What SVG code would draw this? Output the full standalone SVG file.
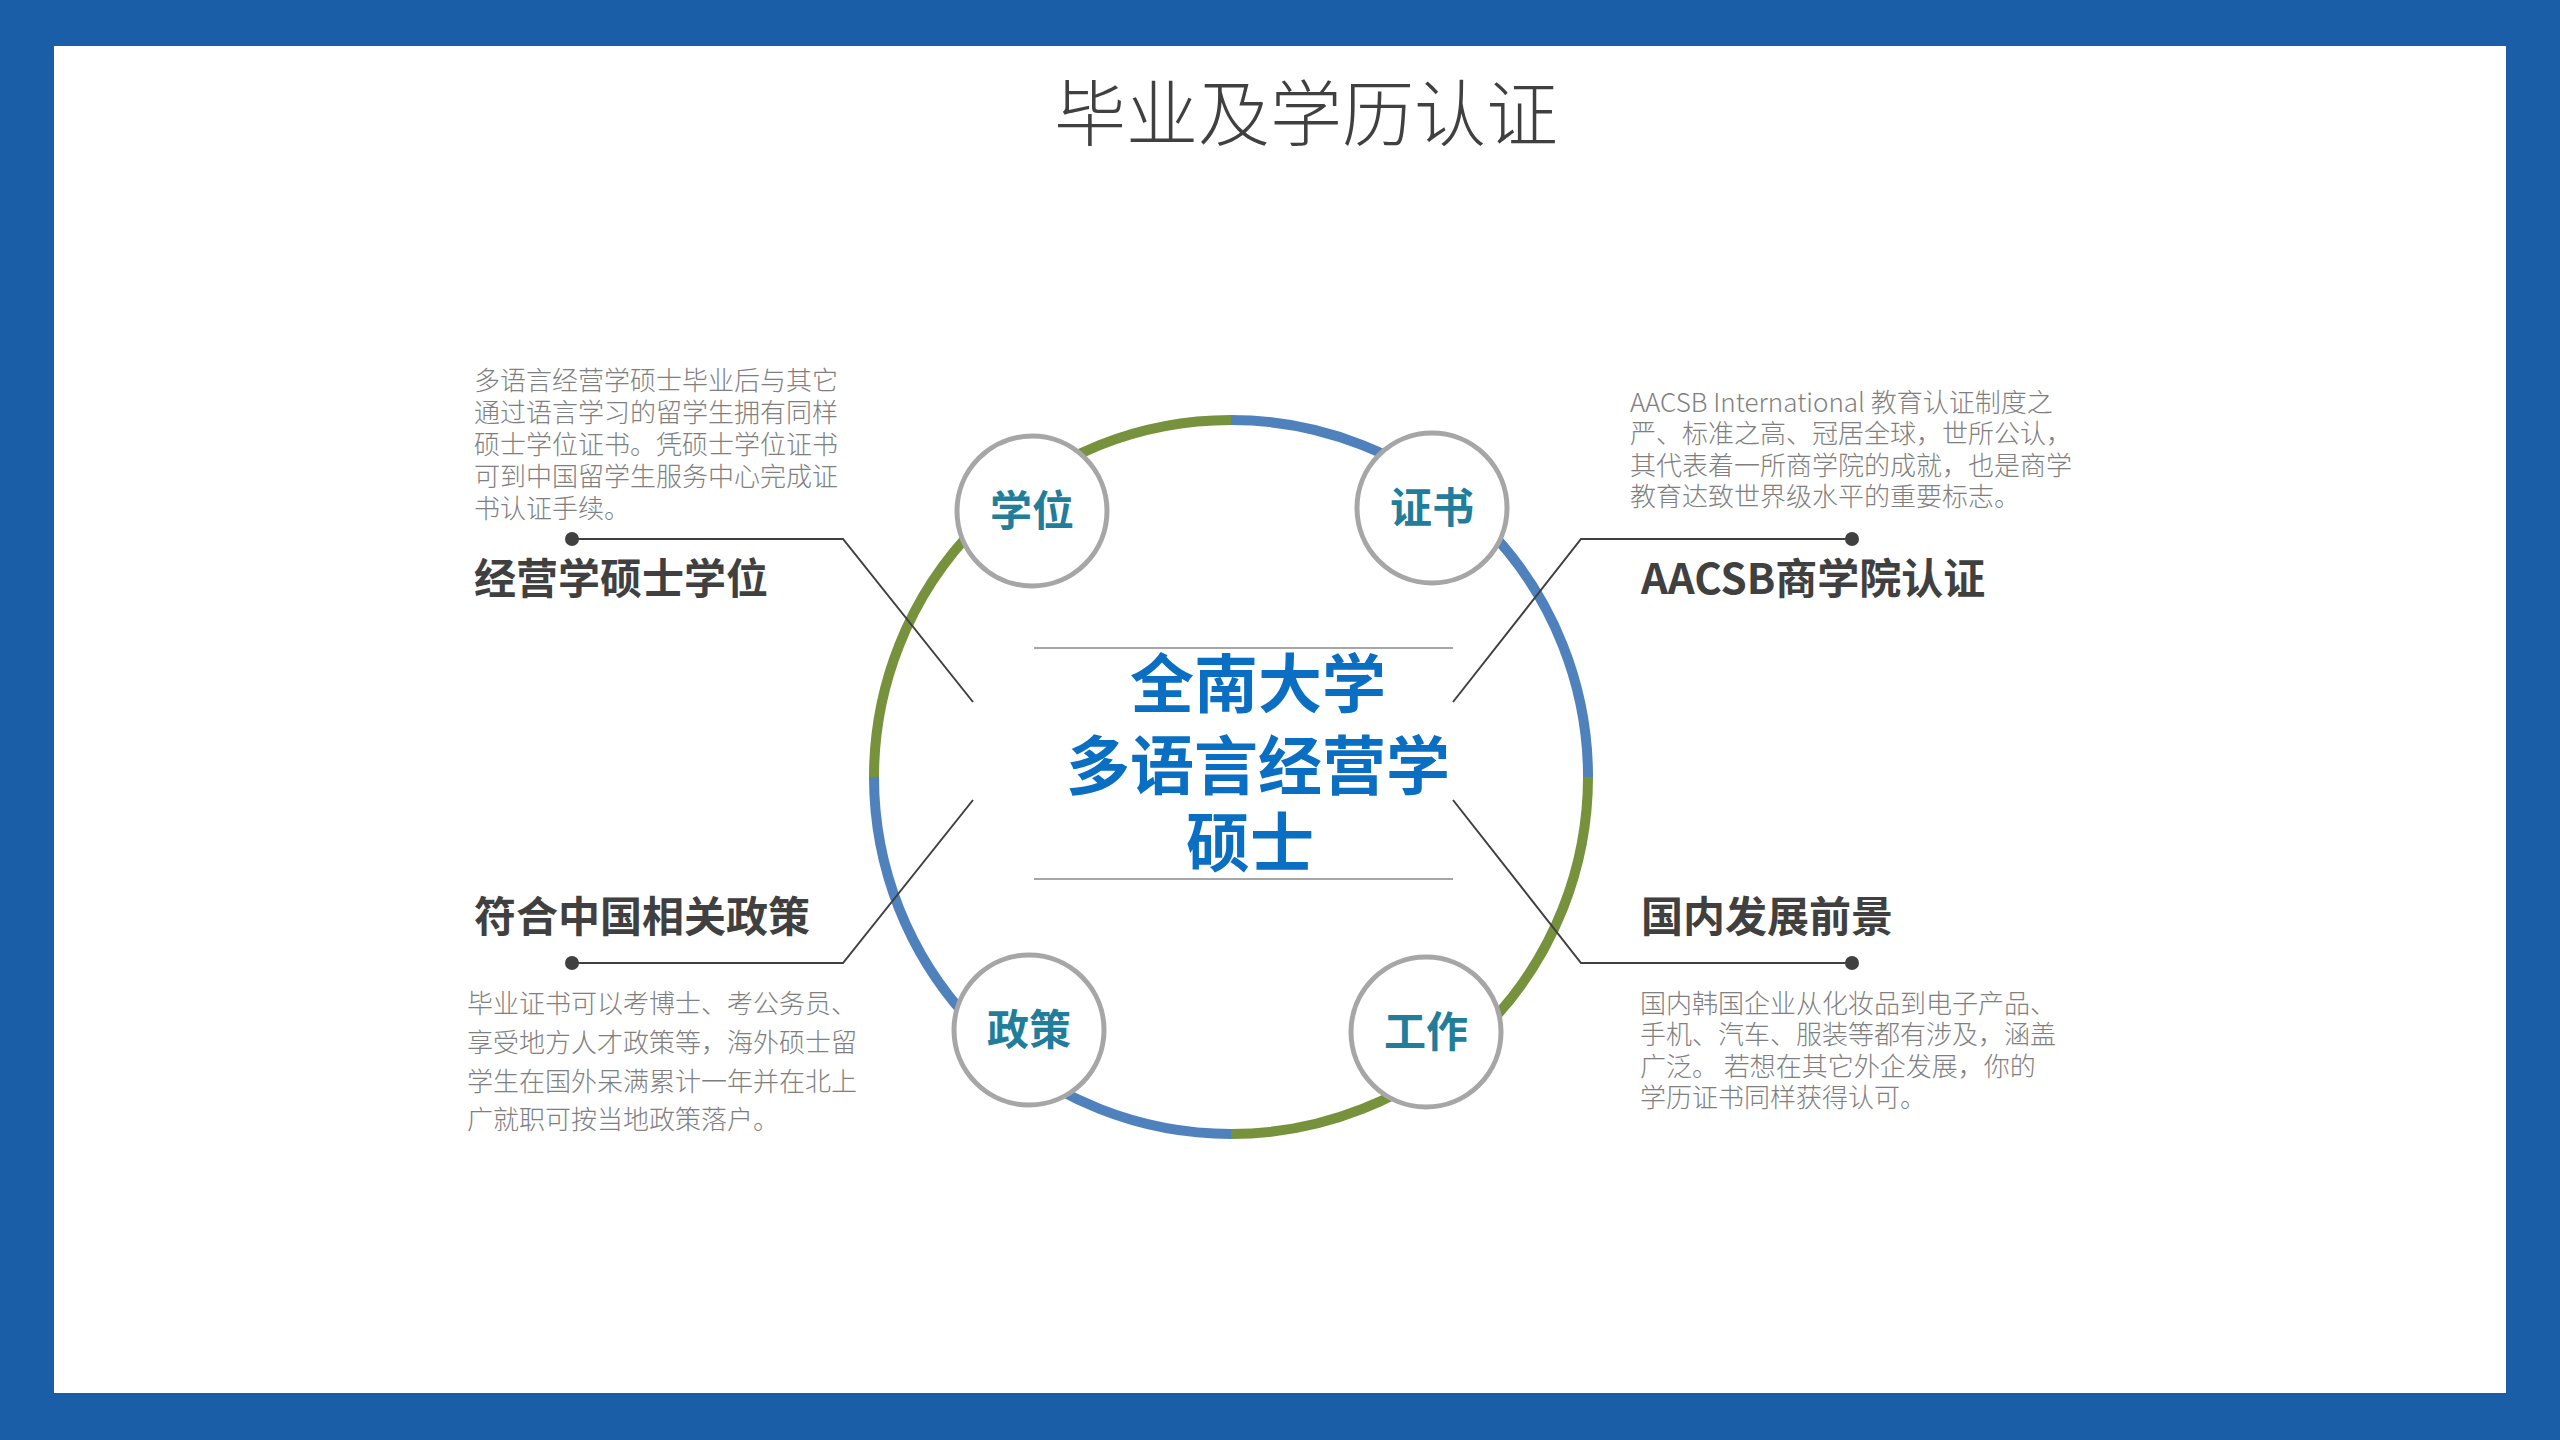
<svg xmlns="http://www.w3.org/2000/svg" width="2560" height="1440" viewBox="0 0 2560 1440">
<style>
.cjk{font-family:"Noto Sans CJK SC","Liberation Sans",sans-serif}
.para{font-size:26px;fill:#7f7f7f;font-weight:300}
.head{font-size:42px;fill:#404040;font-weight:700}
.lab{font-size:42px;fill:#217d9a;font-weight:700;text-anchor:middle}
.ctr{font-size:64px;fill:#0a6fc2;font-weight:700;text-anchor:middle}
.sc{fill:#fff;stroke:#a6a6a6;stroke-width:5}
.ln{fill:none;stroke:#404040;stroke-width:2}
.arc{fill:none;stroke-width:10}
</style>
<rect width="2560" height="1440" fill="#1a5ea7"/>
<rect x="54" y="46" width="2452" height="1347" fill="#fff"/>
<text class="cjk" x="1306" y="140" font-size="72" font-weight="300" fill="#404040" text-anchor="middle">毕业及学历认证</text>
<g id="ring">
<path class="arc" stroke="#4f81bd" d="M1231 420 A357 357 0 0 1 1588 777"/>
<path class="arc" stroke="#76923c" d="M1588 777 A357 357 0 0 1 1231 1134"/>
<path class="arc" stroke="#4f81bd" d="M1231 1134 A357 357 0 0 1 874 777"/>
<path class="arc" stroke="#76923c" d="M874 777 A357 357 0 0 1 1231 420"/>
</g>
<g id="connectors">
<polyline class="ln" points="572,539 843,539 973,702"/>
<polyline class="ln" points="572,963 843,963 973,800"/>
<polyline class="ln" points="1852,539 1581,539 1453,702"/>
<polyline class="ln" points="1852,963 1581,963 1453,800"/>
<circle cx="572" cy="539" r="7" fill="#404040"/>
<circle cx="572" cy="963" r="7" fill="#404040"/>
<circle cx="1852" cy="539" r="7" fill="#404040"/>
<circle cx="1852" cy="963" r="7" fill="#404040"/>
</g>
<g id="n-xuewei"><circle class="sc" cx="1032" cy="511" r="75"/><text class="cjk lab" x="1032" y="526">学位</text></g>
<g id="n-zhengshu"><circle class="sc" cx="1432" cy="508" r="75"/><text class="cjk lab" x="1432" y="523">证书</text></g>
<g id="n-zhengce"><circle class="sc" cx="1029" cy="1030" r="75"/><text class="cjk lab" x="1029" y="1045">政策</text></g>
<g id="n-gongzuo"><circle class="sc" cx="1426" cy="1032" r="75"/><text class="cjk lab" x="1426" y="1047">工作</text></g>
<g id="center">
<line x1="1034" y1="648" x2="1453" y2="648" stroke="#a6a6a6" stroke-width="2"/>
<line x1="1034" y1="879" x2="1453" y2="879" stroke="#a6a6a6" stroke-width="2"/>
<text class="cjk ctr" x="1258" y="707">全南大学</text>
<text class="cjk ctr" x="1258" y="789">多语言经营学</text>
<text class="cjk ctr" x="1250" y="866">硕士</text>
</g>
<g id="t-lt" class="cjk">
<text class="para" x="474" y="390">多语言经营学硕士毕业后与其它</text>
<text class="para" x="474" y="422">通过语言学习的留学生拥有同样</text>
<text class="para" x="474" y="454">硕士学位证书。凭硕士学位证书</text>
<text class="para" x="474" y="486">可到中国留学生服务中心完成证</text>
<text class="para" x="474" y="518">书认证手续。</text>
<text class="head" x="474" y="594">经营学硕士学位</text>
</g>
<g id="t-rt" class="cjk">
<text class="para" x="1630" y="412">AACSB International 教育认证制度之</text>
<text class="para" x="1630" y="443">严、标准之高、冠居全球，世所公认，</text>
<text class="para" x="1630" y="475">其代表着一所商学院的成就，也是商学</text>
<text class="para" x="1630" y="506">教育达致世界级水平的重要标志。</text>
<text class="head" x="1641" y="594">AACSB商学院认证</text>
</g>
<g id="t-lb" class="cjk">
<text class="head" x="474" y="932">符合中国相关政策</text>
<text class="para" x="467" y="1013">毕业证书可以考博士、考公务员、</text>
<text class="para" x="467" y="1052">享受地方人才政策等，海外硕士留</text>
<text class="para" x="467" y="1091">学生在国外呆满累计一年并在北上</text>
<text class="para" x="467" y="1129">广就职可按当地政策落户。</text>
</g>
<g id="t-rb" class="cjk">
<text class="head" x="1641" y="932">国内发展前景</text>
<text class="para" x="1640" y="1013">国内韩国企业从化妆品到电子产品、</text>
<text class="para" x="1640" y="1044">手机、汽车、服装等都有涉及，涵盖</text>
<text class="para" x="1640" y="1076">广泛。 若想在其它外企发展，你的</text>
<text class="para" x="1640" y="1107">学历证书同样获得认可。</text>
</g>
</svg>
